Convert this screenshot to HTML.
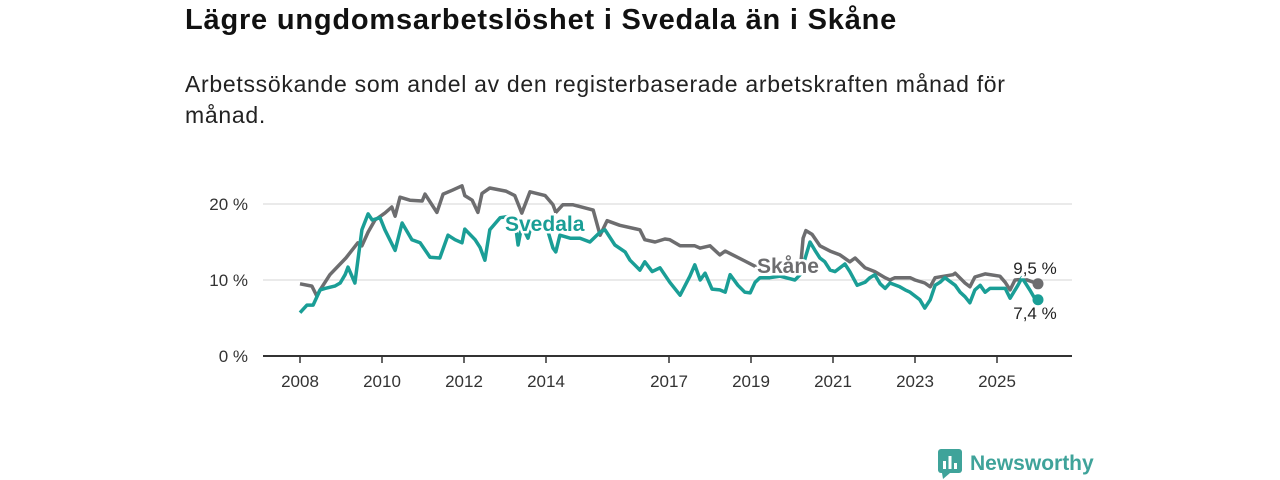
<!DOCTYPE html>
<html><head><meta charset="utf-8"><style>
body{margin:0;width:1280px;height:480px;background:#fff;font-family:"Liberation Sans","DejaVu Sans",sans-serif;overflow:hidden;position:relative}
h1{position:absolute;left:185px;top:4px;margin:0;font-size:29px;letter-spacing:0.8px;font-weight:bold;color:#111}
p.sub{position:absolute;left:185px;top:69px;margin:0;font-size:23px;letter-spacing:0.7px;line-height:31px;color:#222;width:860px}
</style></head><body>
<h1>Lägre ungdomsarbetslöshet i Svedala än i Skåne</h1>
<p class="sub">Arbetssökande som andel av den registerbaserade arbetskraften månad för månad.</p>
<svg id="chart" width="1280" height="480" style="position:absolute;left:0;top:0"></svg>
<script>
const yTicks=[0,10,20];
const yTickLabels=["0 %","10 %","20 %"];
const xTicks=[2008,2010,2012,2014,2017,2019,2021,2023,2025];
const skaneYears=[2008.00,2008.29,2008.41,2008.49,2008.73,2009.12,2009.41,2009.51,2009.66,2009.83,2010.07,2010.24,2010.32,2010.44,2010.68,2010.98,2011.05,2011.34,2011.49,2011.71,2011.95,2012.02,2012.20,2012.34,2012.44,2012.63,2013.02,2013.24,2013.41,2013.61,2013.98,2014.17,2014.24,2014.41,2014.66,2015.15,2015.32,2015.49,2015.80,2016.29,2016.41,2016.66,2016.90,2017.02,2017.27,2017.63,2017.76,2018.00,2018.24,2018.37,2018.85,2019.10,2019.46,2019.83,2020.20,2020.27,2020.34,2020.49,2020.68,2020.93,2021.17,2021.41,2021.54,2021.78,2022.02,2022.27,2022.39,2022.51,2022.88,2023.00,2023.24,2023.37,2023.49,2023.93,2023.98,2024.22,2024.34,2024.46,2024.71,2025.07,2025.20,2025.32,2025.44,2025.68,2026.00];
const skaneValues=[9.5,9.2,7.9,8.7,10.7,12.9,14.9,14.5,16.3,17.9,18.8,19.6,18.4,20.9,20.5,20.4,21.3,18.9,21.3,21.8,22.4,21.1,20.5,18.9,21.4,22.1,21.7,21.1,18.8,21.6,21.1,19.9,18.9,19.9,19.9,19.2,15.9,17.8,17.2,16.6,15.3,15.0,15.4,15.3,14.5,14.5,14.2,14.5,13.3,13.8,12.5,11.8,11.6,11.4,11.2,15.5,16.5,16.0,14.5,13.8,13.3,12.4,12.9,11.6,11.1,10.3,10.0,10.3,10.3,10.0,9.6,9.1,10.3,10.7,10.9,9.6,9.1,10.4,10.8,10.5,9.7,8.7,10.0,10.1,9.5];
const svedalaYears=[2008.00,2008.17,2008.32,2008.49,2008.61,2008.85,2008.98,2009.10,2009.17,2009.34,2009.51,2009.66,2009.76,2009.95,2010.07,2010.32,2010.49,2010.73,2010.93,2011.17,2011.41,2011.61,2011.78,2011.95,2012.02,2012.27,2012.39,2012.51,2012.63,2012.88,2013.12,2013.24,2013.32,2013.41,2013.56,2013.66,2013.98,2014.17,2014.24,2014.34,2014.59,2014.83,2015.07,2015.32,2015.44,2015.68,2015.93,2016.05,2016.29,2016.41,2016.59,2016.78,2017.02,2017.27,2017.51,2017.63,2017.76,2017.88,2018.05,2018.24,2018.37,2018.49,2018.68,2018.85,2018.98,2019.10,2019.22,2019.46,2019.71,2020.07,2020.20,2020.44,2020.56,2020.68,2020.80,2020.93,2021.05,2021.29,2021.41,2021.59,2021.78,2021.90,2022.02,2022.15,2022.27,2022.39,2022.63,2022.76,2022.88,2023.12,2023.24,2023.37,2023.49,2023.61,2023.73,2023.98,2024.10,2024.22,2024.34,2024.46,2024.59,2024.71,2024.83,2025.20,2025.32,2025.51,2025.61,2025.80,2025.93,2026.00];
const svedalaValues=[5.7,6.7,6.7,8.7,8.9,9.2,9.6,10.7,11.7,9.6,16.6,18.7,17.9,18.2,16.6,13.9,17.5,15.3,14.9,13.0,12.9,15.9,15.3,14.9,16.7,15.3,14.3,12.6,16.6,18.2,18.4,17.9,14.6,17.2,15.5,17.6,17.6,14.2,13.7,15.9,15.5,15.5,15.0,16.3,16.6,14.6,13.7,12.6,11.3,12.4,11.1,11.6,9.7,8.0,10.5,12.0,10.0,10.9,8.8,8.7,8.4,10.7,9.3,8.4,8.3,9.7,10.3,10.3,10.5,10.0,10.7,15.0,13.9,12.9,12.4,11.3,11.1,12.1,11.1,9.3,9.7,10.3,10.7,9.5,8.9,9.6,9.1,8.7,8.4,7.4,6.3,7.4,9.3,9.7,10.3,9.3,8.4,7.8,7.0,8.7,9.3,8.4,8.9,8.9,7.6,9.3,10.3,8.7,7.5,7.4];
const endLabels=["9,5 %","7,4 %"];

const NS="http://www.w3.org/2000/svg";
const svg=document.getElementById('chart');
const X=y=>300+(y-2008)*41;
const Y=v=>356-v*7.6;
function mk(tag,attrs,parent){const e=document.createElementNS(NS,tag);for(const k in attrs)e.setAttribute(k,attrs[k]);(parent||svg).appendChild(e);return e;}
yTicks.forEach((t,i)=>{
  if(t>0){const g=mk('line',{x1:263,x2:1072,y1:Y(t),y2:Y(t),stroke:'#d6d6d6','stroke-width':1});
  
  }
  const l=mk('text',{x:248,y:Y(t)+6,'text-anchor':'end','font-size':17,fill:'#333','font-family':'Liberation Sans, sans-serif'});
  l.textContent=yTickLabels[i];
  
  
});
const ax=mk('line',{x1:263,x2:1072,y1:356,y2:356,stroke:'#333','stroke-width':2});


xTicks.forEach(t=>{
  const tk=mk('line',{x1:X(t),x2:X(t),y1:356,y2:363,stroke:'#333','stroke-width':1.5});
  
  
  const l=mk('text',{x:X(t),y:387,'text-anchor':'middle','font-size':17,fill:'#333','font-family':'Liberation Sans, sans-serif'});
  l.textContent=t;
  
  
});
function pts(ys,vs){return ys.map((y,i)=>X(y).toFixed(1)+','+Y(vs[i]).toFixed(1)).join(' ');}
const sk=mk('polyline',{points:pts(skaneYears,skaneValues),fill:'none',stroke:'#6d6d6f','stroke-width':3.5,'stroke-linejoin':'round'});


const sv=mk('polyline',{points:pts(svedalaYears,svedalaValues),fill:'none',stroke:'#1a9e96','stroke-width':3.5,'stroke-linejoin':'round'});


const lastSk=skaneValues.length-1, lastSv=svedalaValues.length-1;
const d1=mk('circle',{cx:X(skaneYears[lastSk]),cy:Y(skaneValues[lastSk]),r:5.5,fill:'#6d6d6f'});


const d2=mk('circle',{cx:X(svedalaYears[lastSv]),cy:Y(svedalaValues[lastSv]),r:5.5,fill:'#1a9e96'});


function lbl(txt,x,y,col,bold,name,anchor){
  const t=mk('text',{x:x,y:y,'font-size':bold?21:17,'font-weight':bold?'bold':'normal',fill:col,stroke:'#fff','stroke-width':bold?5:4,'paint-order':'stroke','text-anchor':anchor||'start','font-family':'Liberation Sans, sans-serif'});
  t.textContent=txt;
  
  
}
lbl('Svedala',505,231,'#1a9e96',true,'svedala-label');
lbl('Skåne',757,273,'#6d6d6f',true,'skane-label');
lbl(endLabels[0],1035,274,'#222',false,'skane-end-value','middle');
lbl(endLabels[1],1035,319,'#222',false,'svedala-end-value','middle');
</script>
<div style="position:absolute;left:938px;top:449px;display:flex;align-items:center">
<svg width="24" height="30" viewBox="0 0 24 30"><rect x="0" y="0" width="24" height="24" rx="3" fill="#3fa39a"/><polygon points="4,24 12,24 5,30" fill="#3fa39a"/><rect x="5" y="12" width="3" height="8" fill="#fff"/><rect x="10.5" y="7" width="3" height="13" fill="#fff"/><rect x="16" y="14" width="3" height="6" fill="#fff"/></svg>
<span style="margin-left:8px;font-size:21px;font-weight:bold;color:#3fa39a">Newsworthy</span></div>
</body></html>
